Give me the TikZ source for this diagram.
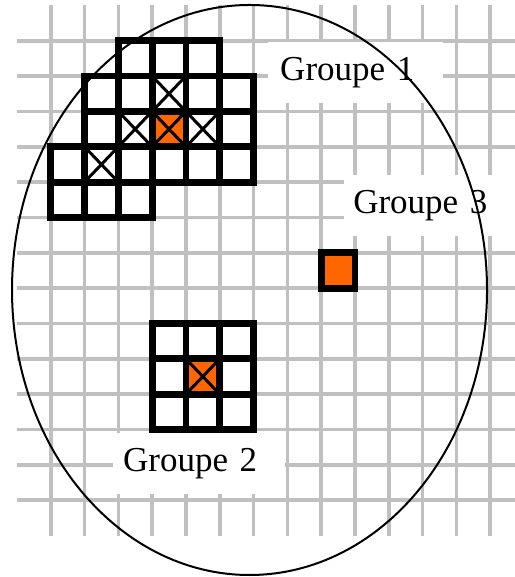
\documentclass[tikz,border=0pt]{standalone}
\usepackage{fontspec}
\setmainfont{Liberation Serif}
\usetikzlibrary{positioning}
\definecolor{gridgray}{HTML}{C0C0C0}
\definecolor{hotorange}{HTML}{FF6600}

\begin{document}
\begin{tikzpicture}[
  x=33.8pt,
  y=-35.35pt,
  gridline/.style={draw=gridgray, line width=3.6pt},
  cellbox/.style={draw=black, line width=6.8pt},
  hotcell/.style={fill=hotorange},
  crossline/.style={draw=black, line width=3pt},
  groupbox/.style={
    fill=white,
    anchor=west,
    align=left,
    font=\fontsize{35}{40}\selectfont,
    minimum height=61pt,
    inner ysep=0pt
  },
  zone/.style={draw=black, line width=2pt}
]
  % Page frame.
  \useasboundingbox (-1.5,-1.1513) rectangle (13.707,15.171);

  % Background grid.
  \foreach \i in {0,...,13}
    \draw[gridline] (\i,-1) -- (\i,14);
  \foreach \j in {0,...,13}
    \draw[gridline] (-1,\j) -- (14,\j);

  % Group labels, on white patches.
  \node[groupbox, inner xsep=12pt, text width=151pt] (groupe1) at (6.43,0.90) {Groupe 1};
  \node[groupbox, inner xsep=9pt, text width=170pt] (groupe3) at (8.68,4.66) {Groupe 3};
  \node[groupbox, inner xsep=10pt, text width=152pt] (groupe2) at (1.84,11.97) {Groupe 2};

  % Hot cells.
  \fill[hotcell] (3,2) rectangle ++(1,1);
  \fill[hotcell] (4,9) rectangle ++(1,1);

  % Crossed cells.
  \foreach \c/\r in {3/1, 2/2, 3/2, 4/2, 1/3, 4/9}
    \draw[crossline] (\c,\r) -- ++(1,1) (\c+1,\r) -- ++(-1,1);

  % Group 1 cells.
  \foreach \r/\cfrom/\cto in {0/2/4, 1/1/5, 2/1/5, 3/0/5, 4/0/2}
    \foreach \c in {\cfrom,...,\cto}
      \draw[cellbox] (\c,\r) rectangle ++(1,1);

  % Group 2 cells.
  \foreach \r in {8,9,10}
    \foreach \c in {3,4,5}
      \draw[cellbox] (\c,\r) rectangle ++(1,1);

  % Group 3 cell.
  \draw[cellbox, hotcell] (8,6) rectangle ++(1,1);

  % Outer zone.
  \coordinate (zonecentre) at (5.882,7.052);
  \draw[zone] (zonecentre) ellipse [x radius=237.5pt, y radius=285pt];
\end{tikzpicture}
\end{document}
